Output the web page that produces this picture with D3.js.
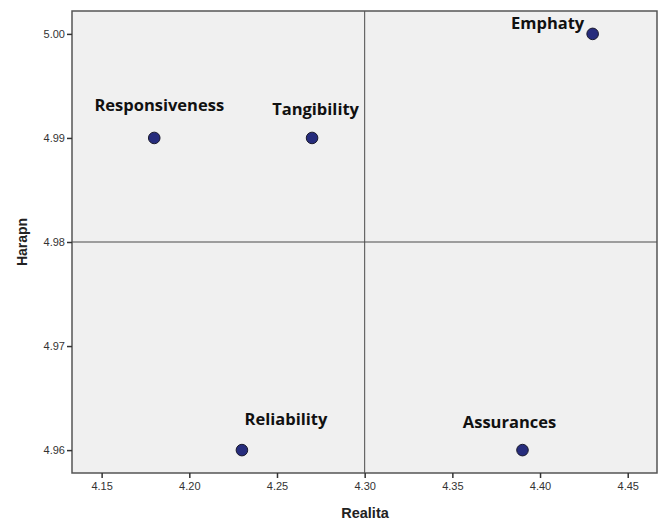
<!DOCTYPE html>
<html><head><meta charset="utf-8">
<script src="https://cdn.jsdelivr.net/npm/d3@7"></script>
<style>body{margin:0;background:#fff;}svg{display:block;}</style>
</head><body>
<svg id="chart" width="662" height="520"></svg>
<script>
const labels = ["Responsiveness","Tangibility","Emphaty","Reliability","Assurances"];
const realita = [4.18, 4.27, 4.43, 4.23, 4.39];
const harapan = [4.99, 4.99, 5.00, 4.96, 4.96];
const xTicks = [4.15, 4.20, 4.25, 4.30, 4.35, 4.40, 4.45];
const yTicks = [4.96, 4.97, 4.98, 4.99, 5.00];
const xMean = 4.30, yMean = 4.98;
// label offsets relative to point (px)
const labelDx = [5, 3.5, -45, 44, -13];
const labelDy = [-27, -23, -5, -25, -22];

const svg = d3.select("#chart");
const L = 72, R = 657, T = 11, B = 473;
const x = d3.scaleLinear().domain([4.1331, 4.4667]).range([L, R]);
const y = d3.scaleLinear().domain([4.9578, 5.0022]).range([B, T]);

svg.append("rect").attr("x", L).attr("y", T).attr("width", R - L).attr("height", B - T)
  .attr("fill", "#f0f0f0");

svg.append("line").attr("x1", x(xMean)).attr("x2", x(xMean)).attr("y1", T).attr("y2", B)
  .attr("stroke", "#4a4a4a").attr("stroke-width", 1);
svg.append("line").attr("x1", L).attr("x2", R).attr("y1", y(yMean)).attr("y2", y(yMean))
  .attr("stroke", "#4a4a4a").attr("stroke-width", 1);

svg.append("rect").attr("x", L).attr("y", T).attr("width", R - L).attr("height", B - T)
  .attr("fill", "none").attr("stroke", "#555").attr("stroke-width", 1.5);

const xAxis = svg.append("g").attr("transform", `translate(0,${B})`)
  .call(d3.axisBottom(x).tickValues(xTicks).tickFormat(d3.format(".2f")).tickSizeOuter(0).tickSize(5).tickPadding(4));
const yAxis = svg.append("g").attr("transform", `translate(${L},0)`)
  .call(d3.axisLeft(y).tickValues(yTicks).tickFormat(d3.format(".2f")).tickSizeOuter(0).tickSize(5).tickPadding(2));
[xAxis, yAxis].forEach(a => {
  a.select(".domain").remove();
  a.selectAll(".tick line").attr("stroke", "#333").attr("stroke-width", 1.5);
  a.selectAll(".tick text").attr("fill", "#333").style("font-family", "Arial, 'Liberation Sans', sans-serif").style("font-size", "11px");
});

svg.selectAll("circle.pt").data(labels).join("circle").attr("class", "pt")
  .attr("cx", (d, i) => x(realita[i])).attr("cy", (d, i) => y(harapan[i]))
  .attr("r", 5.8).attr("fill", "#262c7c").attr("stroke", "#1a1a2e").attr("stroke-width", 1);

svg.selectAll("text.lbl").data(labels).join("text").attr("class", "lbl")
  .attr("x", (d, i) => x(realita[i]) + labelDx[i]).attr("y", (d, i) => y(harapan[i]) + labelDy[i])
  .attr("text-anchor", "middle").attr("fill", "#111")
  .style("font-family", "'Open Sans', sans-serif").style("font-weight", "bold").style("font-size", "16.5px")
  .text(d => d);

svg.append("text").attr("x", 365).attr("y", 518).attr("text-anchor", "middle")
  .attr("fill", "#222").style("font-family", "Arial, 'Liberation Sans', sans-serif")
  .style("font-weight", "bold").style("font-size", "14.5px").text("Realita");
svg.append("text").attr("transform", `translate(27,242) rotate(-90)`).attr("text-anchor", "middle")
  .attr("fill", "#222").style("font-family", "Arial, 'Liberation Sans', sans-serif")
  .style("font-weight", "bold").style("font-size", "14px").text("Harapn");
</script>
</body></html>
